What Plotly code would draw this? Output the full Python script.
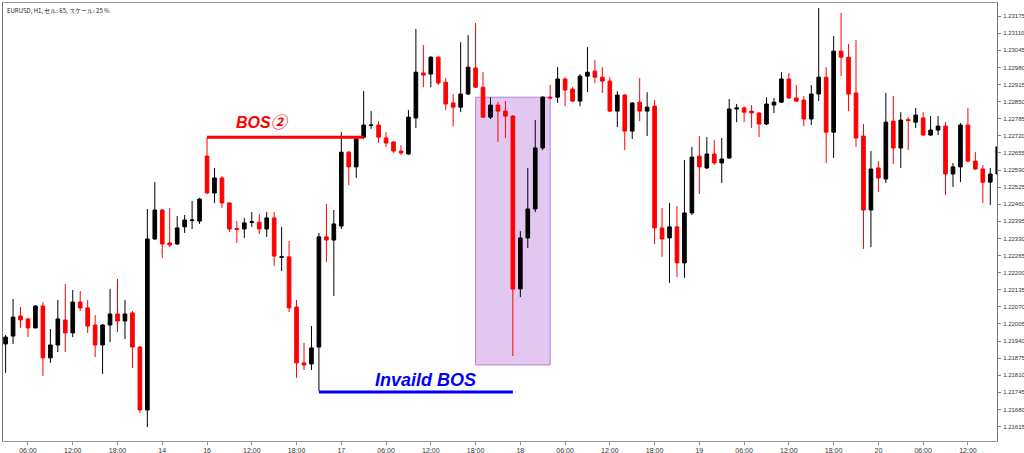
import plotly.graph_objects as go

# ---------------- data ----------------
opens = [
    1.21929, 1.21959, 1.22035, 1.22024, 1.21990, 1.22073, 1.21876, 1.21925, 1.22020, 1.21971,
    1.22088, 1.22066, 1.22001, 1.21925, 1.22001, 1.22043, 1.22016, 1.22047, 1.21917, 1.21678,
    1.22328, 1.22438, 1.22313, 1.22309, 1.22374, 1.22398, 1.22396, 1.22643, 1.22503, 1.22560,
    1.22465, 1.22368, 1.22366, 1.22391, 1.22392, 1.22366, 1.22408, 1.22258, 1.22260, 1.22069,
    1.21857, 1.21853, 1.21917, 1.22336, 1.22324, 1.22377, 1.22658, 1.22602, 1.22715, 1.22759,
    1.22761, 1.22712, 1.22697, 1.22662, 1.22651, 1.22788, 1.22959, 1.22955, 1.23019, 1.22924,
    1.22845, 1.22829, 1.22879, 1.22978, 1.22905, 1.22791, 1.22837, 1.22814, 1.22795, 1.22138,
    1.22332, 1.22442, 1.22674, 1.22867, 1.22867, 1.22936, 1.22898, 1.22852, 1.22947, 1.22966,
    1.22943, 1.22928, 1.22814, 1.22875, 1.22738, 1.22848, 1.22814, 1.22833, 1.22370, 1.22332,
    1.22374, 1.22237, 1.22427, 1.22643, 1.22598, 1.22651, 1.22617, 1.22636, 1.22822, 1.22826,
    1.22814, 1.22807, 1.22765, 1.22837, 1.22848, 1.22936, 1.22864, 1.22856, 1.22784, 1.22879,
    1.22943, 1.22734, 1.23042, 1.23019, 1.22883, 1.22719, 1.22438, 1.22598, 1.22556, 1.22776,
    1.22674, 1.22782, 1.22772, 1.22788, 1.22723, 1.22742, 1.22757, 1.22575, 1.22602, 1.22761,
    1.22624, 1.22594, 1.22544, 1.22575,
]
highs = [
    1.21963, 1.22100, 1.22069, 1.22028, 1.22077, 1.22088, 1.21986, 1.22096, 1.22157, 1.22134,
    1.22130, 1.22096, 1.22039, 1.22005, 1.22138, 1.22176, 1.22096, 1.22054, 1.21921, 1.22442,
    1.22544, 1.22442, 1.22446, 1.22415, 1.22419, 1.22472, 1.22484, 1.22715, 1.22598, 1.22567,
    1.22468, 1.22396, 1.22408, 1.22430, 1.22423, 1.22430, 1.22430, 1.22374, 1.22320, 1.22096,
    1.21933, 1.21997, 1.22351, 1.22461, 1.22438, 1.22734, 1.22662, 1.22712, 1.22890, 1.22814,
    1.22776, 1.22734, 1.22700, 1.22685, 1.22818, 1.23126, 1.23065, 1.23023, 1.23023, 1.22940,
    1.22879, 1.23076, 1.23103, 1.23149, 1.22962, 1.22867, 1.22848, 1.22852, 1.22799, 1.22358,
    1.22598, 1.22780, 1.22871, 1.22913, 1.22981, 1.22943, 1.22905, 1.22955, 1.23057, 1.23008,
    1.22981, 1.22943, 1.22890, 1.22879, 1.22848, 1.22940, 1.22886, 1.22856, 1.22446, 1.22465,
    1.22453, 1.22628, 1.22678, 1.22719, 1.22715, 1.22704, 1.22712, 1.22860, 1.22841, 1.22833,
    1.22837, 1.22810, 1.22867, 1.22864, 1.22962, 1.22959, 1.22913, 1.22871, 1.22913, 1.23206,
    1.22981, 1.23099, 1.23187, 1.23069, 1.23084, 1.22765, 1.22662, 1.22624, 1.22883, 1.22871,
    1.22810, 1.22791, 1.22826, 1.22810, 1.22795, 1.22795, 1.22772, 1.22617, 1.22769, 1.22826,
    1.22658, 1.22609, 1.22598, 1.22685,
]
lows = [
    1.21819, 1.21929, 1.21990, 1.21955, 1.21988, 1.21807, 1.21857, 1.21898, 1.21898, 1.21955,
    1.22054, 1.21971, 1.21879, 1.21815, 1.21936, 1.21974, 1.21948, 1.21838, 1.21667, 1.21613,
    1.22324, 1.22256, 1.22297, 1.22305, 1.22351, 1.22366, 1.22385, 1.22499, 1.22465, 1.22446,
    1.22354, 1.22313, 1.22332, 1.22374, 1.22347, 1.22336, 1.22225, 1.22206, 1.22050, 1.21800,
    1.21830, 1.21830, 1.21750, 1.22240, 1.22111, 1.22366, 1.22533, 1.22560, 1.22708, 1.22746,
    1.22693, 1.22678, 1.22655, 1.22647, 1.22647, 1.22750, 1.22905, 1.22905, 1.22913, 1.22818,
    1.22757, 1.22810, 1.22875, 1.22902, 1.22788, 1.22784, 1.22697, 1.22712, 1.21883, 1.22107,
    1.22294, 1.22430, 1.22666, 1.22860, 1.22845, 1.22833, 1.22848, 1.22833, 1.22886, 1.22921,
    1.22883, 1.22810, 1.22753, 1.22666, 1.22708, 1.22776, 1.22719, 1.22309, 1.22260, 1.22161,
    1.22183, 1.22180, 1.22419, 1.22499, 1.22594, 1.22609, 1.22541, 1.22632, 1.22772, 1.22772,
    1.22750, 1.22715, 1.22761, 1.22807, 1.22845, 1.22860, 1.22848, 1.22757, 1.22761, 1.22852,
    1.22617, 1.22636, 1.22947, 1.22814, 1.22678, 1.22290, 1.22297, 1.22507, 1.22541, 1.22613,
    1.22598, 1.22666, 1.22750, 1.22719, 1.22719, 1.22723, 1.22495, 1.22526, 1.22544, 1.22620,
    1.22590, 1.22465, 1.22457, 1.22571,
]
closes = [
    1.21955, 1.22031, 1.22020, 1.21990, 1.22073, 1.21876, 1.21925, 1.22024, 1.21971, 1.22088,
    1.22066, 1.21997, 1.21925, 1.22001, 1.22043, 1.22016, 1.22043, 1.21917, 1.21678, 1.22328,
    1.22438, 1.22309, 1.22305, 1.22370, 1.22400, 1.22400, 1.22480, 1.22503, 1.22560, 1.22465,
    1.22366, 1.22364, 1.22389, 1.22393, 1.22366, 1.22408, 1.22263, 1.22260, 1.22066, 1.21857,
    1.21849, 1.21914, 1.22336, 1.22324, 1.22385, 1.22658, 1.22602, 1.22708, 1.22761, 1.22761,
    1.22715, 1.22693, 1.22662, 1.22655, 1.22791, 1.22962, 1.22951, 1.23019, 1.22921, 1.22841,
    1.22829, 1.22879, 1.22981, 1.22905, 1.22791, 1.22837, 1.22814, 1.22795, 1.22138, 1.22332,
    1.22442, 1.22674, 1.22867, 1.22864, 1.22936, 1.22894, 1.22852, 1.22947, 1.22962, 1.22943,
    1.22928, 1.22814, 1.22875, 1.22738, 1.22845, 1.22814, 1.22829, 1.22370, 1.22328, 1.22374,
    1.22237, 1.22427, 1.22639, 1.22602, 1.22651, 1.22617, 1.22632, 1.22822, 1.22826, 1.22810,
    1.22807, 1.22765, 1.22841, 1.22848, 1.22936, 1.22864, 1.22852, 1.22784, 1.22879, 1.22943,
    1.22734, 1.23042, 1.23019, 1.22879, 1.22712, 1.22438, 1.22594, 1.22560, 1.22772, 1.22674,
    1.22780, 1.22778, 1.22799, 1.22723, 1.22742, 1.22757, 1.22575, 1.22602, 1.22761, 1.22624,
    1.22594, 1.22544, 1.22575, 1.22678,
]
bar_index = list(range(len(opens)))

x_tick_positions = [3, 9, 15, 21, 27, 33, 39, 45, 51, 57, 63, 69, 75, 81, 87, 93, 99, 105, 111, 117, 123, 129]
x_tick_labels = ["06:00", "12:00", "18:00", "14", "16", "12:00", "18:00", "17", "06:00", "12:00", "18:00",
                 "18", "06:00", "12:00", "18:00", "19", "06:00", "12:00", "18:00", "20", "06:00", "12:00"]

y_tick_values = [1.21615, 1.21680, 1.21745, 1.21810, 1.21875, 1.21940, 1.22005, 1.22070, 1.22135,
                 1.22200, 1.22265, 1.22330, 1.22395, 1.22460, 1.22525, 1.22590, 1.22655, 1.22720,
                 1.22785, 1.22850, 1.22915, 1.22980, 1.23045, 1.23110, 1.23175]
y_tick_labels = ["%.5f" % v for v in y_tick_values]

# annotations (levels / zones)
bos_level = 1.22715
bos_bars = [27, 48]
invalid_level = 1.21746
invalid_bars = [42, 68]
zone_bars = [63, 73]
zone_prices = [1.21849, 1.22867]
bos_label_pos = (34.5, 1.22770)
invalid_label_pos = (56.3, 1.21792)

header_text = "EURUSD, H1, セル: 65, スケール: 25 %"

# ---------------- figure ----------------
fig = go.Figure()

fig.add_trace(go.Candlestick(
    x=bar_index, open=opens, high=highs, low=lows, close=closes,
    increasing=dict(line=dict(color="#000000", width=1), fillcolor="#000000"),
    decreasing=dict(line=dict(color="#ff0000", width=1), fillcolor="#ff0000"),
    whiskerwidth=0, showlegend=False, hoverinfo="skip",
))

fig.add_trace(go.Scatter(
    x=bos_bars, y=[bos_level, bos_level], mode="lines",
    line=dict(color="#ff0000", width=3), showlegend=False, hoverinfo="skip",
))
fig.add_trace(go.Scatter(
    x=invalid_bars, y=[invalid_level, invalid_level], mode="lines",
    line=dict(color="#0000ff", width=3), showlegend=False, hoverinfo="skip",
))

fig.add_shape(
    type="rect", xref="x", yref="y",
    x0=zone_bars[0], x1=zone_bars[1], y0=zone_prices[0], y1=zone_prices[1],
    fillcolor="rgb(226,200,240)", line=dict(color="rgb(183,128,224)", width=1),
    layer="below",
)

fig.add_annotation(
    x=bos_label_pos[0], y=bos_label_pos[1], xref="x", yref="y",
    text="<b><i>BOS②</i></b>", showarrow=False,
    font=dict(family="Liberation Sans, Noto Sans CJK JP", size=16, color="#ff0000"),
)
fig.add_annotation(
    x=invalid_label_pos[0], y=invalid_label_pos[1], xref="x", yref="y",
    text="<b><i>Invaild BOS</i></b>", showarrow=False,
    font=dict(family="Liberation Sans", size=18, color="#0000ff"),
)
fig.add_annotation(
    x=0, y=1, xref="paper", yref="paper", xanchor="left", yanchor="top",
    xshift=2, yshift=-1, text=header_text, showarrow=False,
    font=dict(family="Noto Sans CJK JP", size=6, color="#222222"),
)

fig.update_layout(
    width=1024, height=453, autosize=False,
    margin=dict(l=3, r=27, t=3, b=12, pad=0),
    paper_bgcolor="white", plot_bgcolor="white",
    showlegend=False,
    xaxis=dict(
        range=[-0.35, 132.9], rangeslider=dict(visible=False),
        tickmode="array", tickvals=x_tick_positions, ticktext=x_tick_labels,
        ticks="outside", ticklen=3, tickcolor="#888888", tickwidth=1,
        showgrid=False, zeroline=False,
        showline=True, linecolor="#999999", linewidth=1, mirror=True,
        tickfont=dict(family="Liberation Sans", size=7, color="#333333"),
        automargin=False,
    ),
    yaxis=dict(
        side="right", range=[1.21560, 1.23225],
        tickmode="array", tickvals=y_tick_values, ticktext=y_tick_labels,
        ticks="outside", ticklen=3, tickcolor="#888888", tickwidth=1,
        showgrid=False, zeroline=False,
        showline=True, linecolor="#777777", linewidth=1, mirror=True,
        tickfont=dict(family="Liberation Sans", size=6, color="#333333"),
        ticklabelstandoff=1,
        automargin=False,
    ),
)

fig.write_html(
    "out.html",
    config={"displayModeBar": False},
    post_script="document.body.style.margin='0';document.body.style.overflow='hidden';",
)
